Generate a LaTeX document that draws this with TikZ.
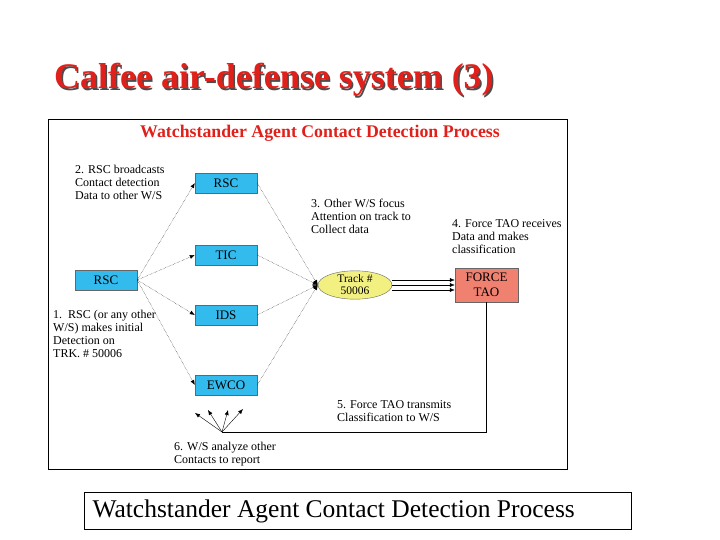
\documentclass[tikz,border=0pt]{standalone}
\usepackage{fontspec}
\setmainfont{Liberation Serif}
\usetikzlibrary{shapes.geometric,arrows.meta}
\definecolor{boxc}{HTML}{33BBEE}
\definecolor{titred}{HTML}{E0201A}
\definecolor{tao}{HTML}{F08070}
\definecolor{trk}{HTML}{F2F080}
\begin{document}
\begin{tikzpicture}[x=1pt,y=-1pt,
  bx/.style={draw=black!60,fill=boxc,minimum width=62pt,minimum height=20pt,inner sep=0pt,font=\fontsize{13}{14}\selectfont},
  lbl/.style={anchor=north west,align=left,inner sep=0pt,font=\fontsize{12}{13}\selectfont},
  dar/.style={densely dotted,-{Latex[length=5pt,width=4pt]},thin},
  sar/.style={-{Latex[length=5pt,width=4pt]},thin}]
\useasboundingbox (0,0) rectangle (720,540);
\node[font=\bfseries\fontsize{36}{38}\selectfont,text=black!70] at (275.5,81.5) {Calfee air-defense system (3)};
\node[font=\bfseries\fontsize{36}{38}\selectfont,text=titred] (title) at (274,80) {Calfee air-defense system (3)};
\draw[thin] (48,119) rectangle (567,469);
\node[font=\bfseries\fontsize{17.8}{19}\selectfont,text=titred] (sub) at (320,133) {Watchstander Agent Contact Detection Process};
\node[bx] (rsct) at (226,183) {RSC};
\node[bx] (tic) at (226,255) {TIC};
\node[bx] (rscl) at (106,280) {RSC};
\node[bx] (ids) at (226,315) {IDS};
\node[bx] (ewco) at (226,385) {EWCO};
\node[ellipse,draw=black!60,fill=trk,minimum width=74pt,minimum height=22pt,inner sep=0pt,align=center,font=\fontsize{11.5}{12}\selectfont] (trk) at (355,285) {Track \#\\50006};
\node[draw=black!60,fill=tao,minimum width=63pt,minimum height=34pt,inner sep=0pt,align=center,font=\fontsize{13}{15}\selectfont] (tao) at (486.5,285) {FORCE\\TAO};
\foreach \b in {rsct,tic,ids,ewco} {
  \draw[dar] (rscl.east) -- (\b.west);
  \draw[dar] (\b.east) -- (trk.west);
}
\foreach \d in {-5,0,5} \draw[sar] ([yshift=\d]trk.east) -- ([yshift=\d]tao.west);
\coordinate (c) at (222,432);
\draw[thin] (tao.south) |- (c);
\coordinate (t1) at (195,413);
\coordinate (t2) at (208,410);
\coordinate (t3) at (228,410);
\coordinate (t4) at (243,409);
\foreach \t in {t1,t2,t3,t4} \draw[sar] (c) -- (\t);
\node[lbl] (l2) at (75,165) {2. RSC broadcasts\\Contact detection\\Data to other W/S};
\node[lbl] (l1) at (53,310) {1.\ \ RSC (or any other\\W/S) makes initial\\Detection on\\TRK. \# 50006};
\node[lbl] (l3) at (311,199) {3. Other W/S focus\\Attention on track to\\Collect data};
\node[lbl] (l4) at (452,219) {4. Force TAO receives\\Data and makes\\classification};
\node[lbl] (l5) at (337,400) {5. Force TAO transmits\\Classification to W/S};
\node[lbl] (l6) at (174,442) {6. W/S analyze other\\Contacts to report};
\draw[thin] (84,492) rectangle (631,529);
\node[font=\fontsize{25.5}{27}\selectfont,anchor=west] (cap) at (89,511) {Watchstander Agent Contact Detection Process};
\end{tikzpicture}
\end{document}
